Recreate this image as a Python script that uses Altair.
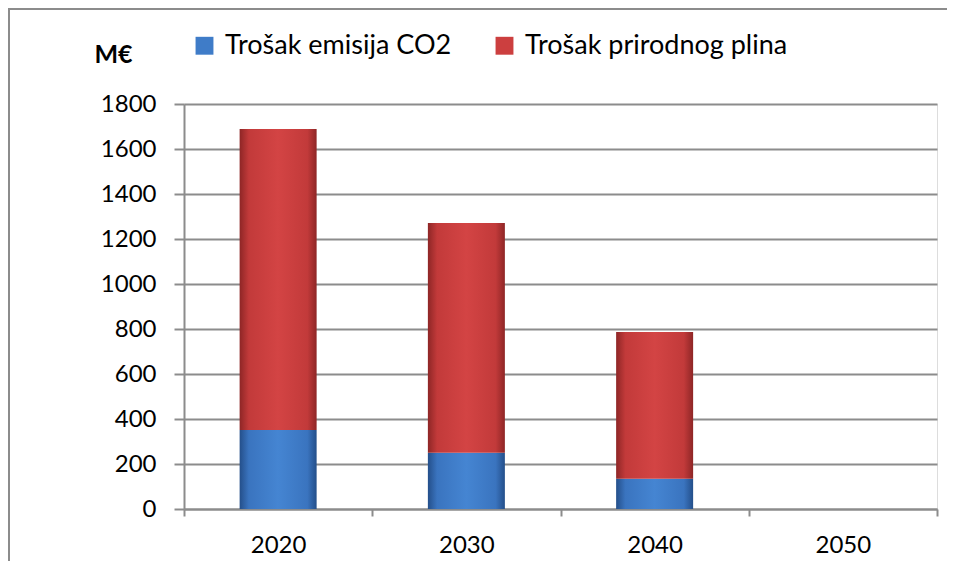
import altair as alt
import pandas as pd

years = ["2020", "2030", "2040", "2050"]
co2_cost = [351, 250, 135, 0]
gas_cost = [1338, 1021, 652, 0]
series_names = ["Trošak emisija CO2", "Trošak prirodnog plina"]
y_ticks = [0, 200, 400, 600, 800, 1000, 1200, 1400, 1600, 1800]

FONT = "Lato"
GRID = "#8c8c8c"

wide = pd.DataFrame({
    "year": years,
    "co2": co2_cost,
    "gas": gas_cost,
})
wide["total"] = wide["co2"] + wide["gas"]

long = pd.DataFrame({
    "year": years * 2,
    "series": [series_names[0]] * len(years) + [series_names[1]] * len(years),
    "value": co2_cost + gas_cost,
    "order": [0] * len(years) + [1] * len(years),
})

x_scale = alt.Scale(domain=years, paddingInner=0, paddingOuter=0)
y_scale = alt.Scale(domain=[0, 1800], nice=False)


def grad(dark, main, light):
    return alt.LinearGradient(
        gradient="linear",
        x1=0, x2=1, y1=0, y2=0,
        stops=[
            alt.GradientStop(color=dark, offset=0),
            alt.GradientStop(color=main, offset=0.12),
            alt.GradientStop(color=light, offset=0.5),
            alt.GradientStop(color=main, offset=0.88),
            alt.GradientStop(color=dark, offset=1),
        ],
    )


one = pd.DataFrame({"a": [0]})
frame_left = alt.Chart(one).mark_rule(stroke="#8c8c8c", strokeWidth=2).encode(
    x=alt.value(-175), y=alt.value(-96), y2=alt.value(470),
)
frame_top = alt.Chart(one).mark_rule(stroke="#8c8c8c", strokeWidth=2).encode(
    y=alt.value(-95), x=alt.value(-176), x2=alt.value(770),
)

legend_layer = alt.Chart(long).mark_bar(opacity=0, width=77).encode(
    x=alt.X("year:N", scale=x_scale, sort=years,
            axis=alt.Axis(title=None, labelAngle=0, labelFont=FONT, labelFontSize=24,
                          labelColor="#000000", labelPadding=17, tickBand="extent",
                          ticks=True, tickSize=7, tickColor=GRID, tickWidth=2,
                          domainColor=GRID, domainWidth=2, grid=False)),
    y=alt.Y("value:Q", stack="zero", scale=y_scale,
            axis=alt.Axis(values=y_ticks, format="d", title="M€", titleAngle=0,
                          titleX=-71, titleY=-50,
                          titleAlign="center", titleBaseline="middle", titleFont=FONT,
                          titleFontSize=25, titleFontWeight="bold", titleColor="#000000",
                          labelFont=FONT, labelFontSize=24, labelColor="#000000",
                          labelPadding=18, tickSize=10, tickColor=GRID, tickWidth=2,
                          domainColor=GRID, domainWidth=2, gridColor=GRID, gridWidth=2)),
    color=alt.Color("series:N", sort=series_names,
                    scale=alt.Scale(domain=series_names, range=["#3f7cc8", "#cc3f3f"]),
                    legend=alt.Legend(title=None, orient="none", direction="horizontal",
                                      legendX=7, legendY=-72, symbolType="square",
                                      symbolSize=320, symbolOpacity=1, symbolStrokeWidth=0,
                                      labelFont=FONT, labelFontSize=27, labelColor="#000000",
                                      labelOffset=7, columnPadding=39, labelLimit=400)),
    order=alt.Order("order:Q"),
)

blue = alt.Chart(wide).mark_bar(
    width=77, color=grad("#244f8a", "#3a74bf", "#4585d2")
).encode(
    x=alt.X("year:N", scale=x_scale, sort=years),
    y=alt.Y("co2:Q", scale=y_scale),
)

red = alt.Chart(wide).mark_bar(
    width=77, color=grad("#8e2626", "#c23a3a", "#d34444")
).encode(
    x=alt.X("year:N", scale=x_scale, sort=years),
    y=alt.Y("co2:Q", scale=y_scale),
    y2="total:Q",
)

chart = alt.layer(frame_left, frame_top, legend_layer, blue, red).properties(
    width=753, height=405,
    autosize=alt.AutoSizeParams(type="none"),
    padding={"left": 176, "top": 96, "right": 10, "bottom": 52},
).configure_view(stroke=None).configure(background="#ffffff")

chart.save("out.html", embed_options={"renderer": "svg", "actions": False})
